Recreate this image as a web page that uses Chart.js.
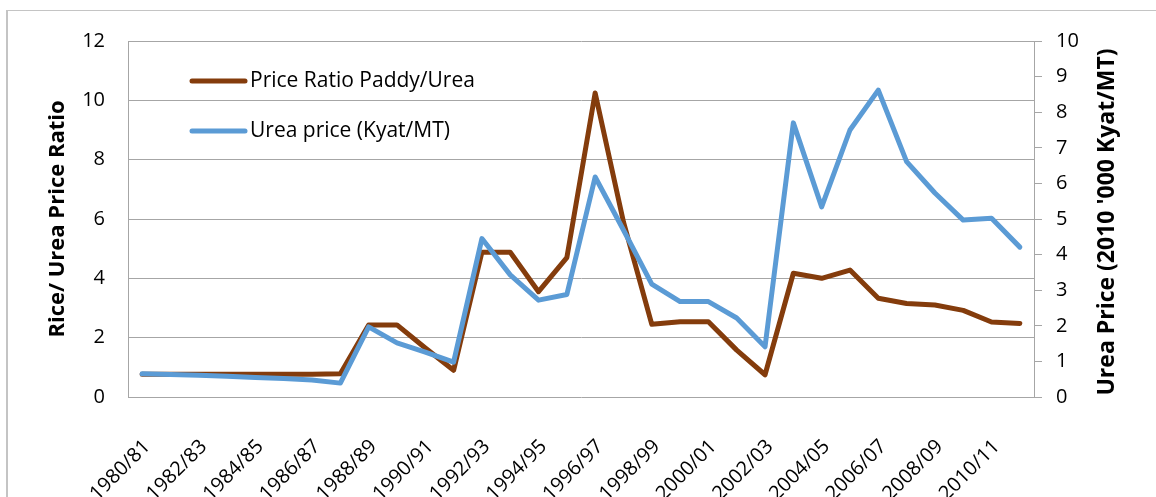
<!DOCTYPE html>
<html>
<head>
<meta charset="utf-8">
<title>Rice / Urea price ratio</title>
<script src="https://cdn.jsdelivr.net/npm/chart.js@4.4.1/dist/chart.umd.min.js"></script>
<style>
  html, body { margin: 0; padding: 0; background: #fff; overflow: hidden; }
  #frame {
    position: absolute; left: 6px; top: 10px; width: 1200px; height: 600px;
    border-left: 2px solid #c4c4c4; border-top: 1px solid #c4c4c4;
  }
  #chart { position: absolute; left: 0; top: 0; }
</style>
</head>
<body>
<div id="frame"></div>
<canvas id="chart" width="1156" height="497"></canvas>
<script>
/* ================= DATA ================= */
const years = [
  "1980/81", "1981/82", "1982/83", "1983/84", "1984/85", "1985/86", "1986/87", "1987/88",
  "1988/89", "1989/90", "1990/91", "1991/92", "1992/93", "1993/94", "1994/95", "1995/96",
  "1996/97", "1997/98", "1998/99", "1999/00", "2000/01", "2001/02", "2002/03", "2003/04",
  "2004/05", "2005/06", "2006/07", "2007/08", "2008/09", "2009/10", "2010/11", "2011/12"
];

// Rice (paddy) / urea price ratio - left axis
const priceRatio = [
  0.77, 0.77, 0.77, 0.77, 0.77, 0.77, 0.77, 0.78,
  2.43, 2.43, 1.65, 0.90, 4.88, 4.88, 3.55, 4.70,
  10.25, 5.90, 2.45, 2.54, 2.54, 1.58, 0.75, 4.17,
  4.00, 4.28, 3.33, 3.15, 3.10, 2.92, 2.53, 2.48
];

// Urea price, 2010 '000 Kyat/MT - right axis
const ureaPrice = [
  0.65, 0.63, 0.61, 0.58, 0.55, 0.52, 0.48, 0.39,
  1.97, 1.52, 1.26, 0.98, 4.45, 3.43, 2.72, 2.88,
  6.18, 4.69, 3.17, 2.68, 2.68, 2.22, 1.41, 7.70,
  5.34, 7.50, 8.62, 6.61, 5.73, 4.97, 5.02, 4.21
];

const seriesNames = ["Price Ratio Paddy/Urea", "Urea price (Kyat/MT)"];
const leftTitle = "Rice/ Urea Price Ratio";
const rightTitle = "Urea Price (2010 '000 Kyat/MT)";

/* ================= STYLE ================= */
const FONT = "'Open Sans'";
const GRID = "#a6a6a6";
const BROWN = "#843c0c";
const BLUE = "#5b9bd5";

/* ================= PLUGINS ================= */
// legend sits inside the plot, top-left, like the Excel original
const insideLegend = {
  id: "insideLegend",
  afterDatasetsDraw(chart) {
    const { ctx, chartArea } = chart;
    chart.data.datasets.forEach((ds, i) => {
      const y = chartArea.top + 40 + i * 50;
      const x = chartArea.left + 64;
      ctx.save();
      ctx.strokeStyle = ds.borderColor;
      ctx.lineWidth = 5;
      ctx.lineCap = "round";
      ctx.beginPath();
      ctx.moveTo(x, y);
      ctx.lineTo(x + 53, y);
      ctx.stroke();
      ctx.fillStyle = "#000";
      ctx.font = `21px ${FONT}`;
      ctx.textBaseline = "middle";
      ctx.fillText(ds.label, x + 58, y);
      ctx.restore();
    });
  }
};

// right title reads bottom-to-top, Chart.js would turn it the other way
const rightAxisTitle = {
  id: "rightAxisTitle",
  afterDraw(chart) {
    const { ctx } = chart;
    const s = chart.scales.yRight;
    ctx.save();
    ctx.translate(1107, (s.top + s.bottom) / 2 + 3);
    ctx.rotate(-Math.PI / 2);
    ctx.fillStyle = "#000";
    ctx.font = `bold 23px ${FONT}`;
    ctx.textAlign = "center";
    ctx.textBaseline = "middle";
    ctx.fillText(rightTitle, 0, 0);
    ctx.restore();
  }
};

/* ================= CHART ================= */
new Chart(document.getElementById("chart"), {
  type: "line",
  data: {
    labels: years,
    datasets: [
      {
        label: seriesNames[0],
        data: priceRatio,
        yAxisID: "y",
        borderColor: BROWN,
        order: 1
      },
      {
        label: seriesNames[1],
        data: ureaPrice,
        yAxisID: "yRight",
        borderColor: BLUE,
        order: 0
      }
    ]
  },
  options: {
    responsive: false,
    animation: false,
    devicePixelRatio: 1,
    layout: { padding: { top: 41, left: 0, right: 0, bottom: 0 } },
    elements: {
      line: { borderWidth: 5, tension: 0, borderJoinStyle: "round", borderCapStyle: "round", fill: false },
      point: { radius: 0, hoverRadius: 0 }
    },
    plugins: {
      legend: { display: false },
      tooltip: { enabled: false }
    },
    scales: {
      x: {
        offset: true,
        grid: { display: false, drawTicks: false },
        border: { display: false },
        ticks: {
          autoSkip: false,
          minRotation: 45,
          maxRotation: 45,
          padding: 38,
          labelOffset: 5,
          color: "#000",
          font: { family: FONT, size: 20 },
          callback: (v, i) => (i % 2 === 0 ? years[i] : "")
        },
        afterFit(s) { s.height = 100; }
      },
      y: {
        position: "left",
        min: 0,
        max: 12,
        ticks: { stepSize: 2, padding: 23, color: "#000", font: { family: FONT, size: 20 } },
        grid: { color: GRID, drawTicks: false },
        border: { color: GRID },
        title: {
          display: true,
          text: leftTitle,
          color: "#000",
          font: { family: FONT, size: 22, weight: "bold" },
          padding: { top: 45, bottom: 0 }
        },
        afterFit(s) { s.width = 128; }
      },
      yRight: {
        position: "right",
        min: 0,
        max: 10,
        ticks: { stepSize: 1, padding: 14, color: "#000", font: { family: FONT, size: 20 } },
        grid: { drawOnChartArea: false, drawTicks: true, tickLength: 8, color: GRID },
        border: { color: GRID },
        afterFit(s) { s.width = 122; }
      }
    }
  },
  plugins: [insideLegend, rightAxisTitle]
});
</script>
</body>
</html>
